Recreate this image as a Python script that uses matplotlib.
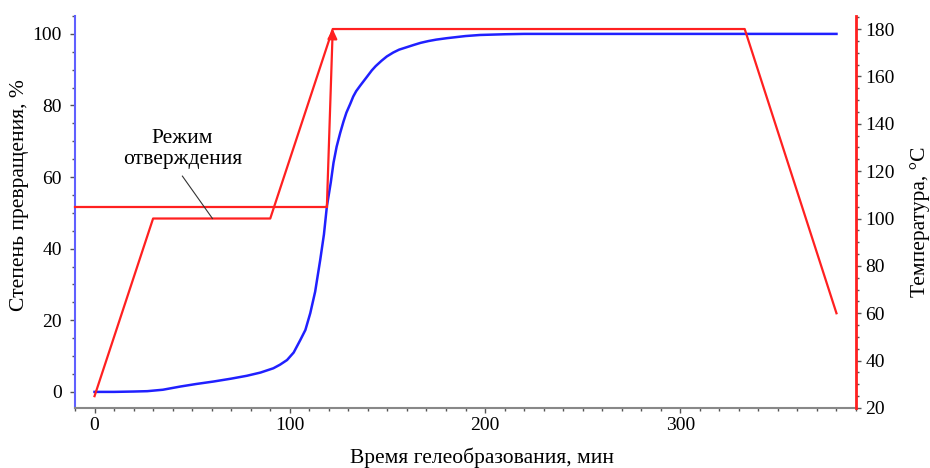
import matplotlib
matplotlib.use("Agg")
import matplotlib.pyplot as plt
from matplotlib.ticker import MultipleLocator

plt.rcParams['font.family'] = ['Liberation Serif', 'DejaVu Serif']

# Conversion degree (blue), left axis
t_conv = [0, 10, 20, 27, 35, 44, 52, 61, 70, 78, 85, 91.6, 95, 98.6, 102, 105.4, 108,
          110.5, 113, 115.6, 117.5, 119, 121, 122.4, 124, 125.8, 127.5, 129, 131, 132.5,
          134, 136, 139.5, 142, 144, 147, 149.7, 153, 156, 160, 163.4, 167, 171, 175,
          180.4, 190, 197.4, 210, 220, 250, 300, 350, 380]
conv = [0, 0, 0.1, 0.2, 0.6, 1.5, 2.2, 2.9, 3.7, 4.5, 5.4, 6.6, 7.6, 8.9, 11.0, 14.5, 17.3,
        22, 28, 36.9, 44, 51.8, 58.5, 64, 68.5, 72.3, 75.5, 78, 80.5, 82.5,
        84, 85.5, 88, 89.8, 91, 92.5, 93.7, 94.8, 95.6, 96.3, 96.9, 97.5, 98.0, 98.4,
        98.8, 99.4, 99.7, 99.9, 100, 100, 100, 100, 100]

# Cure regime temperature (red), right axis
t_temp = [0, 30, 90, 122, 333, 380]
temp = [25, 100, 100, 180, 180, 60]

# Step (isothermal 105 °C then jump to 180 °C)
t_step = [-10, 119]
temp_step = [105, 105]
arrow_start = (119, 105)
arrow_end = (122, 180)

RED = '#ff2020'
BLUE = '#2020ff'

fig = plt.figure(figsize=(9.3, 4.68), dpi=100)
ax = fig.add_axes([75/930, 1-408/468, (856-75)/930, (408-16)/468])
ax2 = ax.twinx()

ax.plot(t_conv, conv, color=BLUE, lw=1.8, zorder=3)
ax.set_xlim(-10, 390)
ax.set_ylim(-4.5, 105)
ax2.set_ylim(20, 185.5)

ax2.plot(t_temp, temp, color=RED, lw=1.6, zorder=3)
ax2.plot(t_step, temp_step, color=RED, lw=1.6, zorder=3, clip_on=False)
ax2.annotate('', xy=arrow_end, xytext=arrow_start,
             arrowprops=dict(arrowstyle='-|>', color=RED, lw=1.6,
                             mutation_scale=14, shrinkA=0, shrinkB=0))

# annotation
ax.text(45, 67.8, 'Режим\nотверждения', ha='center', va='center',
        fontsize=15.5, linespacing=1.15, multialignment='center')
ax2.plot([45, 60.4], [117.9, 100], color='#333333', lw=0.8, zorder=4)

# ticks
ax.xaxis.set_major_locator(MultipleLocator(100))
ax.xaxis.set_minor_locator(MultipleLocator(10))
ax.yaxis.set_minor_locator(MultipleLocator(5))
ax2.yaxis.set_minor_locator(MultipleLocator(5))
ax.set_yticks([0, 20, 40, 60, 80, 100])
ax2.set_yticks([20, 40, 60, 80, 100, 120, 140, 160, 180])

for a in (ax, ax2):
    a.tick_params(which='major', length=3.8, width=1, color='#555555', labelsize=14, pad=3)
    a.tick_params(which='minor', length=2.3, width=1, color='#555555')
ax.tick_params(axis='y', which='major', pad=5.5)

ax.spines['top'].set_visible(False)
ax2.spines['top'].set_visible(False)
ax.spines['right'].set_visible(False)
ax2.spines['left'].set_visible(False)
ax2.spines['bottom'].set_visible(False)
ax.spines['left'].set_color('#6060ff')
ax.spines['left'].set_linewidth(1.5)
ax2.spines['right'].set_color(RED)
ax2.spines['right'].set_linewidth(2)
ax.spines['bottom'].set_color('#888888')
ax.spines['bottom'].set_linewidth(1.5)

fig.text(482/930, 1-458/468, 'Время гелеобразования, мин', ha='center', va='center', fontsize=15.5)
fig.text(20/930, 1-195/468, 'Степень превращения, %', ha='center', va='center',
         rotation=90, fontsize=15.5)
fig.text(920/930, 1-222/468, 'Температура, °С', ha='center', va='center',
         rotation=90, fontsize=15.5)

fig.savefig('out.png', dpi=100)
